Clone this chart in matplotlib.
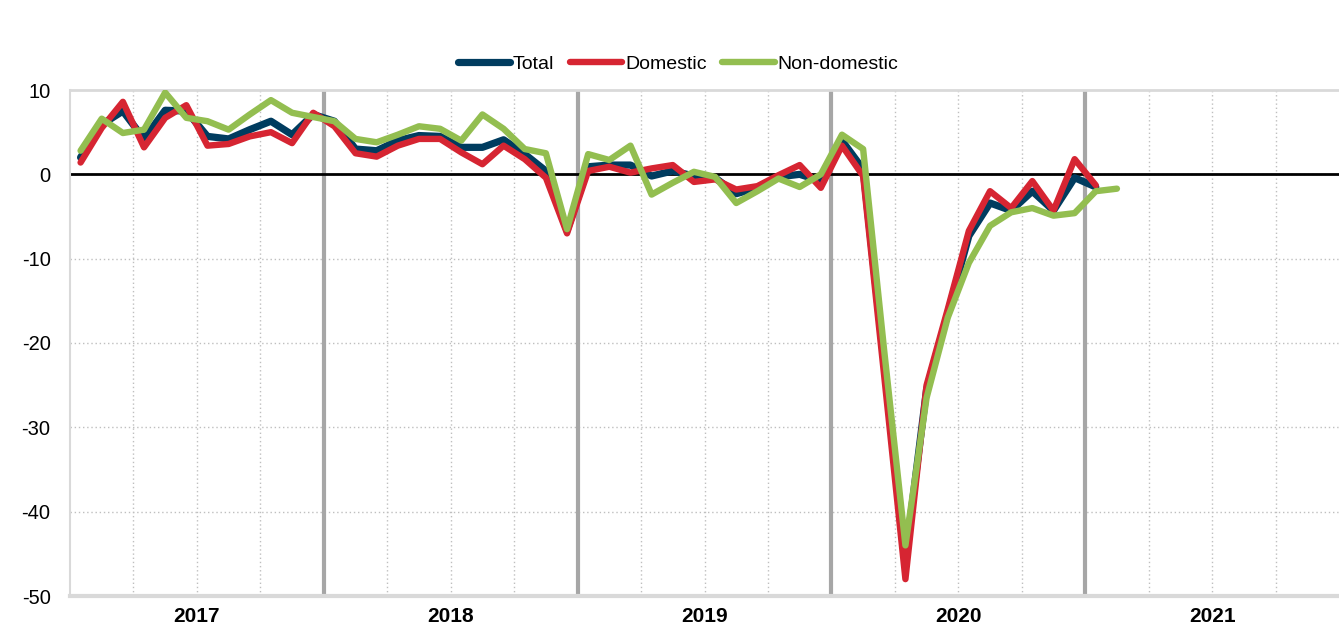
import matplotlib.pyplot as plt
import numpy as np

plt.rcParams['font.family'] = ['Liberation Sans', 'DejaVu Sans']
plt.rcParams['axes.unicode_minus'] = False

# monthly values, Jan 2017 onwards
total = [2.0, 5.9, 7.5, 4.2, 7.6, 7.5, 4.5, 4.2, 5.3, 6.3, 4.7, 7.1,
         6.3, 3.0, 2.8, 4.0, 4.6, 4.5, 3.2, 3.2, 4.1, 2.4, 0.4, -6.7,
         0.9, 1.1, 1.1, -0.2, 0.4, -0.2, -0.4, -2.3, -1.6, -0.3, 0.0, -0.8,
         4.0, 0.6, -22.5, -45.5, -25.5, -16.5, -7.3, -3.4, -4.3, -2.0, -4.3, -0.4,
         -1.5]
domestic = [1.4, 5.5, 8.6, 3.2, 6.7, 8.2, 3.4, 3.6, 4.5, 5.0, 3.7, 7.3,
            5.7, 2.5, 2.1, 3.4, 4.2, 4.2, 2.6, 1.2, 3.4, 1.8, -0.4, -7.0,
            0.4, 0.9, 0.2, 0.7, 1.1, -0.9, -0.6, -1.8, -1.4, -0.1, 1.1, -1.6,
            3.4, -0.2, -24.0, -48.0, -25.0, -16.0, -6.7, -2.0, -4.0, -0.8, -4.3, 1.8,
            -1.3]
non_domestic = [2.8, 6.6, 4.9, 5.3, 9.7, 6.7, 6.3, 5.3, 7.1, 8.8, 7.3, 6.8,
                6.3, 4.2, 3.8, 4.7, 5.7, 5.4, 4.0, 7.1, 5.4, 3.0, 2.5, -6.5,
                2.4, 1.7, 3.4, -2.4, -1.0, 0.3, -0.3, -3.4, -2.0, -0.5, -1.5, 0.0,
                4.7, 3.0, -21.0, -44.0, -26.5, -17.0, -10.5, -6.1, -4.5, -4.0, -4.9, -4.6,
                -2.0, -1.7]
years = ['2017', '2018', '2019', '2020', '2021']
yticks = [10, 0, -10, -20, -30, -40, -50]

fig = plt.figure(figsize=(13.39, 6.29), dpi=100)
ax = fig.add_axes([70/1339, 1-596/629, 1-70/1339, (596-90)/629])

n_months = 12 * len(years)
ax.set_xlim(0, n_months)
ax.set_ylim(-50, 10)

# grid
for q in range(3, n_months, 3):
    if q % 12:
        ax.axvline(q, color='#bfbfbf', lw=1, ls=(0, (1, 2)), zorder=1)
for y in yticks[1:-1]:
    ax.axhline(y, color='#bfbfbf', lw=1, ls=(0, (1, 2)), zorder=1)
for b in range(12, n_months, 12):
    ax.axvline(b, color='#a6a6a6', lw=3, zorder=1)
ax.axhline(0, color='black', lw=2, zorder=2)

x_tot = np.arange(len(total)) + 0.5
x_non = np.arange(len(non_domestic)) + 0.5
style = dict(solid_joinstyle='round', solid_capstyle='round')
ax.plot(x_tot, total, color='#003c5f', lw=5.2, label='Total', zorder=3, **style)
ax.plot(x_tot, domestic, color='#d62532', lw=4.6, label='Domestic', zorder=4, **style)
ax.plot(x_non, non_domestic, color='#93be50', lw=4.6, label='Non-domestic', zorder=5, **style)

ax.set_yticks(yticks)
ax.set_yticklabels([str(v) for v in yticks], fontsize=14.5)
ax.set_xticks(range(0, n_months + 1, 12))
ax.set_xticklabels([])
ax.set_xticks(np.arange(6, n_months, 12), minor=True)
ax.set_xticklabels(years, minor=True, fontsize=15, fontweight='bold')
ax.tick_params(axis='both', which='both', length=0)
ax.tick_params(axis='y', pad=14)
ax.tick_params(axis='x', which='minor', pad=8)

for side in ['top', 'bottom', 'left']:
    ax.spines[side].set_color('#d9d9d9')
ax.spines['top'].set_linewidth(2)
ax.spines['bottom'].set_linewidth(3)
ax.spines['left'].set_linewidth(1.5)
ax.spines['right'].set_visible(False)

fig.legend(loc='center', bbox_to_anchor=(678/1339, 1-64/629), ncol=3, frameon=False,
           fontsize=14, handlelength=2.7, handletextpad=0.15, columnspacing=0.8,
           borderaxespad=0)

fig.savefig('out.png', dpi=100)
